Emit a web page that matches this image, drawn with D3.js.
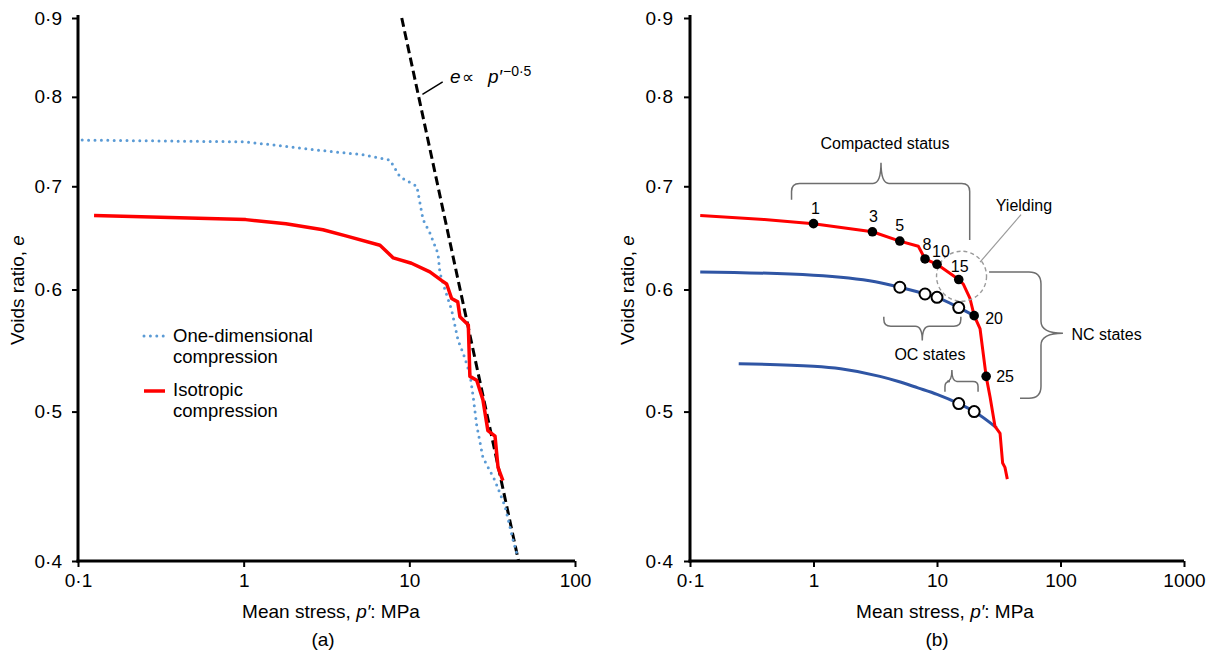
<!DOCTYPE html>
<html>
<head>
<meta charset="utf-8">
<script src="https://cdn.jsdelivr.net/npm/d3@7"></script>
<style>
  body { margin: 0; background: #fff; }
  svg { display: block; }
  text { font-family: "Liberation Sans", Arial, sans-serif; fill: #000; }
</style>
</head>
<body>
<svg width="1213" height="657"></svg>
<script>
// ---- Data -------------------------------------------------------------
// Axis ticks
const eTicks = [0.4, 0.5, 0.6, 0.7, 0.8, 0.9];
const eTickLabels = ["0·4", "0·5", "0·6", "0·7", "0·8", "0·9"];
const pTicksA = [0.1, 1, 10, 100];
const pTickLabelsA = ["0·1", "1", "10", "100"];
const pTicksB = [0.1, 1, 10, 100, 1000];
const pTickLabelsB = ["0·1", "1", "10", "100", "1000"];

// (a) one-dimensional compression
const oneDimP = [0.106, 1.03, 3.1, 5.14, 7.64, 8.78, 11.1, 11.5, 12.1, 13.3, 14.9, 15.3, 16.4, 18.0, 19.7, 21.2, 23.2, 24.3, 25.5, 27.8, 32.9, 37.8, 42.2, 44.4];
const oneDimE = [0.750, 0.748, 0.738, 0.734, 0.728, 0.710, 0.700, 0.686, 0.666, 0.653, 0.633, 0.615, 0.600, 0.582, 0.556, 0.545, 0.529, 0.511, 0.490, 0.467, 0.451, 0.434, 0.413, 0.405];

// (a) isotropic compression
const isoP = [0.125, 1.03, 1.8, 3.01, 4.14, 6.65, 8.0, 10.3, 13.3, 15.7, 16.8, 18.0, 19.6, 20.2, 22.7, 23.2, 25.5, 27.8, 29.8, 32.9, 34.3, 36.7];
const isoE = [0.670, 0.666, 0.662, 0.656, 0.650, 0.641, 0.629, 0.624, 0.616, 0.608, 0.605, 0.592, 0.589, 0.576, 0.569, 0.527, 0.524, 0.509, 0.486, 0.482, 0.460, 0.451];

// (a) reference line e ∝ p'^-0.5
const trendP = [9.0, 45.6];
const trendE = [0.9, 0.4];

// (b) normal compression line of the compacted material
const ncP = [0.121, 0.4, 1, 3, 5, 7.06, 8, 10, 15, 16.3, 18.5, 20, 22.3, 25, 26.9, 29.5, 32.4, 34.0, 35.5, 37.1];
const ncE = [0.670, 0.666, 0.662, 0.654, 0.645, 0.640, 0.628, 0.623, 0.609, 0.605, 0.592, 0.577, 0.566, 0.527, 0.511, 0.489, 0.484, 0.463, 0.460, 0.452];

// (b) loading stages marked on the curve
const stageP = [1, 3, 5, 8, 10, 15, 20, 25];
const stageE = [0.662, 0.654, 0.645, 0.628, 0.623, 0.609, 0.577, 0.527];
const stageLabels = ["1", "3", "5", "8", "10", "15", "20", "25"];

// (b) unloading curves
const unload1P = [0.121, 1, 3.17, 5, 8, 10, 15, 20];
const unload1E = [0.616, 0.613, 0.607, 0.602, 0.596, 0.593, 0.584, 0.577];
const unload2P = [0.248, 1.0, 1.66, 3.45, 4.88, 7.0, 10, 15, 20, 30.4];
const unload2E = [0.537, 0.535, 0.533, 0.527, 0.523, 0.518, 0.513, 0.506, 0.500, 0.488];

// (b) overconsolidated states
const ocP = [5, 8, 10, 15, 15, 20];
const ocE = [0.602, 0.596, 0.593, 0.584, 0.506, 0.500];

// ---- Scales -----------------------------------------------------------
const svg = d3.select("svg");
const xA = d3.scaleLog().domain([0.1, 100]).range([78, 575]);
const yA = d3.scaleLog().domain([0.4, 0.9]).range([561, 18]);
const xB = d3.scaleLog().domain([0.1, 1000]).range([690, 1184]);
const yB = d3.scaleLog().domain([0.4, 0.9]).range([561, 18]);

const zip = (a, b) => a.map((v, i) => [v, b[i]]);
const lineFor = (x, y, curve) => d3.line().x(d => x(d[0])).y(d => y(d[1])).curve(curve || d3.curveLinear);

const RED = "#ff0000";
const DARKBLUE = "#2f55a4";
const LIGHTBLUE = "#5b9bd5";
const GREY = "#6e6e6e";
const FONT = "'Liberation Sans', Arial, sans-serif";

// ---- Axes -------------------------------------------------------------
function drawAxes(x, y, pTicks, pLabels, yPad) {
  const gy = svg.append("g").attr("transform", `translate(${x.range()[0]},0)`)
    .call(d3.axisLeft(y).tickValues(eTicks)
      .tickFormat(d => eTickLabels[eTicks.indexOf(d)])
      .tickSize(6).tickSizeOuter(0).tickPadding(yPad));
  const gx = svg.append("g").attr("transform", `translate(0,${y.range()[0]})`)
    .call(d3.axisBottom(x).tickValues(pTicks)
      .tickFormat(d => pLabels[pTicks.indexOf(d)])
      .tickSize(6).tickSizeOuter(0).tickPadding(7));
  [gx, gy].forEach(g => {
    g.select(".domain").attr("stroke", "#000").attr("stroke-width", 3);
    g.selectAll(".tick line").attr("stroke", "#000").attr("stroke-width", 2);
    g.selectAll(".tick text").attr("font-size", 19).attr("font-family", FONT).attr("fill", "#000");
  });
  gy.select(".domain").attr("d", `M0,${y.range()[1] - 3}V${y.range()[0] + 1.5}`);
  gx.select(".domain").attr("d", `M${x.range()[0] - 1.5},0H${x.range()[1]}`);
}

function axisTitles(yTitleX, xTitleX, tag) {
  const yt = svg.append("text")
    .attr("transform", `translate(${yTitleX},290) rotate(-90)`)
    .attr("text-anchor", "middle").attr("font-size", 19);
  yt.append("tspan").text("Voids ratio, ");
  yt.append("tspan").attr("font-style", "italic").text("e");

  const xt = svg.append("text").attr("x", xTitleX).attr("y", 618)
    .attr("text-anchor", "middle").attr("font-size", 19);
  xt.append("tspan").text("Mean stress, ");
  xt.append("tspan").attr("font-style", "italic").text("p′");
  xt.append("tspan").text(": MPa");

  svg.append("text").attr("x", xTitleX - 8).attr("y", 646)
    .attr("text-anchor", "middle").attr("font-size", 19).text(tag);
}

drawAxes(xA, yA, pTicksA, pTickLabelsA, 10);
drawAxes(xB, yB, pTicksB, pTickLabelsB, 11);
axisTitles(24, 331, "(a)");
axisTitles(634, 945, "(b)");

// ---- Panel (a) --------------------------------------------------------
svg.append("path").datum(zip(trendP, trendE))
  .attr("d", lineFor(xA, yA)).attr("fill", "none")
  .attr("stroke", "#000").attr("stroke-width", 3).attr("stroke-dasharray", "9 4.5");

svg.append("path").datum(zip(oneDimP, oneDimE))
  .attr("d", lineFor(xA, yA)).attr("fill", "none")
  .attr("stroke", LIGHTBLUE).attr("stroke-width", 3)
  .attr("stroke-dasharray", "0 6.4").attr("stroke-linecap", "round");

svg.append("path").datum(zip(isoP, isoE))
  .attr("d", lineFor(xA, yA)).attr("fill", "none")
  .attr("stroke", RED).attr("stroke-width", 3.5).attr("stroke-linejoin", "round");

// e ∝ p'^-0.5 label with leader
svg.append("line")
  .attr("x1", xA(12.0)).attr("y1", yA(0.803))
  .attr("x2", xA(15.9)).attr("y2", yA(0.818))
  .attr("stroke", "#000").attr("stroke-width", 1.5);
const lx = xA(17.6), ly = yA(0.817);
svg.append("text").attr("x", lx).attr("y", ly).attr("font-size", 19)
  .attr("font-style", "italic").text("e");
svg.append("text").attr("x", lx + 12).attr("y", ly).attr("font-size", 17).text("∝");
svg.append("text").attr("x", lx + 38).attr("y", ly).attr("font-size", 19)
  .attr("font-style", "italic").text("p′");
svg.append("text").attr("x", lx + 53).attr("y", ly - 7).attr("font-size", 14).text("−0·5");

// legend
const legend = svg.append("g").attr("transform", "translate(144,336)");
legend.append("line").attr("x1", 0).attr("x2", 21).attr("y1", 0).attr("y2", 0)
  .attr("stroke", LIGHTBLUE).attr("stroke-width", 3)
  .attr("stroke-dasharray", "0 6.4").attr("stroke-linecap", "round");
legend.append("text").attr("x", 29).attr("y", 6).attr("font-size", 18.5).text("One-dimensional");
legend.append("text").attr("x", 29).attr("y", 27).attr("font-size", 18.5).text("compression");
legend.append("line").attr("x1", 0).attr("x2", 21).attr("y1", 55).attr("y2", 55)
  .attr("stroke", RED).attr("stroke-width", 3.5);
legend.append("text").attr("x", 29).attr("y", 60).attr("font-size", 18.5).text("Isotropic");
legend.append("text").attr("x", 29).attr("y", 81).attr("font-size", 18.5).text("compression");

// ---- Panel (b) --------------------------------------------------------
svg.append("path").datum(zip(unload1P, unload1E))
  .attr("d", lineFor(xB, yB, d3.curveMonotoneX)).attr("fill", "none")
  .attr("stroke", DARKBLUE).attr("stroke-width", 3);
svg.append("path").datum(zip(unload2P, unload2E))
  .attr("d", lineFor(xB, yB, d3.curveMonotoneX)).attr("fill", "none")
  .attr("stroke", DARKBLUE).attr("stroke-width", 3);
svg.append("path").datum(zip(ncP, ncE))
  .attr("d", lineFor(xB, yB)).attr("fill", "none")
  .attr("stroke", RED).attr("stroke-width", 3).attr("stroke-linejoin", "round");

// yielding zone
svg.append("circle").attr("cx", xB(15.8)).attr("cy", yB(0.612)).attr("r", 25)
  .attr("fill", "none").attr("stroke", "#9a9a9a").attr("stroke-width", 1.4)
  .attr("stroke-dasharray", "4 3");
svg.append("line")
  .attr("x1", xB(22.3)).attr("y1", yB(0.625))
  .attr("x2", xB(47.9)).attr("y2", yB(0.671))
  .attr("stroke", "#9a9a9a").attr("stroke-width", 1.2);
svg.append("text").attr("x", xB(50.6)).attr("y", yB(0.675))
  .attr("text-anchor", "middle").attr("font-size", 16).text("Yielding");

// open circles: OC states
svg.selectAll("circle.oc").data(zip(ocP, ocE)).join("circle").attr("class", "oc")
  .attr("cx", d => xB(d[0])).attr("cy", d => yB(d[1])).attr("r", 5.5)
  .attr("fill", "#fff").attr("stroke", "#000").attr("stroke-width", 2);

// filled circles: loading stages
svg.selectAll("circle.stage").data(zip(stageP, stageE)).join("circle").attr("class", "stage")
  .attr("cx", d => xB(d[0])).attr("cy", d => yB(d[1])).attr("r", 4.8)
  .attr("fill", "#000");

const labelShift = { "1": [2, -10, "middle"], "3": [1, -10, "middle"], "5": [0, -10, "middle"],
  "8": [2, -9, "middle"], "10": [4, -7, "middle"], "15": [1, -8, "middle"],
  "20": [11, 8, "start"], "25": [10, 6, "start"] };
stageLabels.forEach((t, i) => {
  const s = labelShift[t];
  svg.append("text").attr("x", xB(stageP[i]) + s[0]).attr("y", yB(stageE[i]) + s[1])
    .attr("text-anchor", s[2]).attr("font-size", 16).text(t);
});

// braces
function hBrace(x1, x2, xc, y, tip, y1End, y2End, r) {
  const s1 = Math.sign(y1End - y), s2 = Math.sign(y2End - y);
  return `M${x1},${y1End}L${x1},${y + s1 * r}Q${x1},${y} ${x1 + r},${y}` +
    `L${xc - r},${y}Q${xc},${y} ${xc},${tip}Q${xc},${y} ${xc + r},${y}` +
    `L${x2 - r},${y}Q${x2},${y} ${x2},${y + s2 * r}L${x2},${y2End}`;
}
function vBrace(x, y1, y2, yc, tip, x1End, x2End, r) {
  const s1 = Math.sign(x - x1End), s2 = Math.sign(x - x2End);
  return `M${x1End},${y1}L${x - s1 * r},${y1}Q${x},${y1} ${x},${y1 + r}` +
    `L${x},${yc - r}Q${x},${yc} ${tip},${yc}Q${x},${yc} ${x},${yc + r}` +
    `L${x},${y2 - r}Q${x},${y2} ${x - s2 * r},${y2}L${x2End},${y2}`;
}
const braceStyle = p => p.attr("fill", "none").attr("stroke", GREY).attr("stroke-width", 1.5);

svg.append("path").call(braceStyle)
  .attr("d", hBrace(xB(0.664), xB(18.4), xB(3.52), yB(0.703), yB(0.725), yB(0.686), yB(0.646), 8));
svg.append("text").attr("x", xB(3.79)).attr("y", yB(0.740))
  .attr("text-anchor", "middle").attr("font-size", 16).text("Compacted status");

svg.append("path").call(braceStyle)
  .attr("d", hBrace(xB(3.71), xB(15.6), xB(7.6), yB(0.568), yB(0.556), yB(0.576), yB(0.576), 7));
svg.append("path").call(braceStyle)
  .attr("d", hBrace(xB(11.6), xB(21.5), xB(13.2), yB(0.523), yB(0.532), yB(0.515), yB(0.515), 5));
svg.append("text").attr("x", xB(8.77)).attr("y", yB(0.540))
  .attr("text-anchor", "middle").attr("font-size", 16).text("OC states");

svg.append("path").call(braceStyle)
  .attr("d", vBrace(xB(69.5), yB(0.616), yB(0.510), yB(0.562), xB(104.7), xB(26.4), xB(47), 12));
svg.append("text").attr("x", xB(122.7)).attr("y", yB(0.556))
  .attr("font-size", 16).text("NC states");
</script>
</body>
</html>
